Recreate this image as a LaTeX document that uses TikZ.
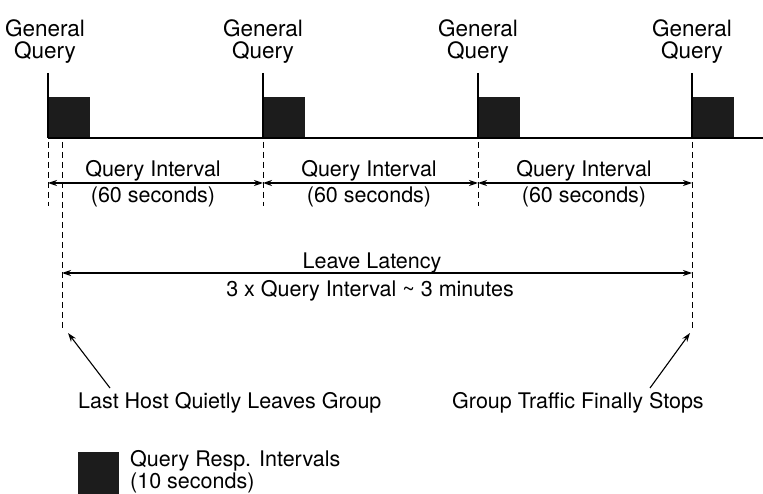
\documentclass[tikz,border=0pt]{standalone}
\usepackage{fontspec}
\setmainfont{TeX Gyre Heros}
\usetikzlibrary{arrows.meta}
\definecolor{boxfill}{RGB}{28,28,28}
\begin{document}
\begin{tikzpicture}[x=1pt,y=-1pt,
  lbl/.style={inner sep=0pt,font=\fontsize{21.5}{23}\selectfont},
  toplbl/.style={inner sep=0pt,font=\fontsize{22.5}{23}\selectfont},
  respbox/.style={fill=boxfill,draw=none},
  tick/.style={line width=1.2pt},
  baseln/.style={line width=1.6pt},
  guide/.style={line width=0.9pt,dash pattern=on 6pt off 4pt},
  dim/.style={line width=1.2pt,{Stealth[length=9pt,width=6pt]}-{Stealth[length=9pt,width=6pt]}},
  pointer/.style={line width=1.1pt,-{Stealth[length=9pt,width=6pt]}}]
\useasboundingbox (0,0) rectangle (763,494);
% tick positions
\foreach \n/\x in {a/48,b/263,c/478,d/692}{
  \coordinate (top\n) at (\x,73);
  \coordinate (base\n) at (\x,138);
  \coordinate (dash\n) at (\x,142);
  \coordinate (dim\n) at (\x,183);
}
\coordinate (lend) at (763,138);
% response boxes
\foreach \n in {a,b,c,d}{
  \fill[respbox] ([yshift=41pt]base\n) rectangle ([xshift=42pt]base\n);
  \draw[tick] (top\n) -- (base\n);
}
\draw[baseln] (basea) -- (lend);
% top labels
\node[toplbl,anchor=base] (gqa1) at (45,36.5) {General};
\node[toplbl,anchor=base] (gqa2) at (45,59) {Query};
\node[toplbl,anchor=base] (gqb1) at (263,36.5) {General};
\node[toplbl,anchor=base] (gqb2) at (263,59) {Query};
\node[toplbl,anchor=base] (gqc1) at (478,36.5) {General};
\node[toplbl,anchor=base] (gqc2) at (478,59) {Query};
\node[toplbl,anchor=base] (gqd1) at (692,36.5) {General};
\node[toplbl,anchor=base] (gqd2) at (692,59) {Query};
% dashed guides
\coordinate (lg1) at (62,142);
\coordinate (lg2) at (62,330);
\coordinate (rg2) at (692,330);
\draw[guide] (dasha) -- (48,206);
\draw[guide] (dashb) -- (263,206);
\draw[guide] (dashc) -- (478,206);
\draw[guide] (dashd) -- (rg2);
\draw[guide] (lg1) -- (lg2);
% query interval dims
\draw[dim] (dima) -- (dimb);
\draw[dim] (dimb) -- (dimc);
\draw[dim] (dimc) -- (dimd);
\foreach \n/\x in {1/153,2/369,3/584}{
  \node[lbl,anchor=base] (qi\n) at (\x,177) {Query Interval};
  \node[lbl,anchor=base] (qs\n) at (\x,203) {(60 seconds)};
}
% leave latency
\coordinate (ll1) at (62,273);
\coordinate (ll2) at (692,273);
\draw[dim] (ll1) -- (ll2);
\node[lbl,anchor=base] (lltext) at (372,269) {Leave Latency};
\node[lbl,anchor=base] (lltext2) at (370,297) {3 x Query Interval \textasciitilde{} 3 minutes};
% bottom labels
\node[lbl,anchor=base west] (lasthost) at (78,408) {Last Host Quietly Leaves Group};
\node[lbl,anchor=base west] (stops) at (452,408) {Group Traffic Finally Stops};
\coordinate (la) at (110,388);
\coordinate (lah) at (68,333);
\coordinate (ra) at (650,388);
\coordinate (rah) at (690,333);
\draw[pointer] (la) -- (lah);
\draw[pointer] (ra) -- (rah);
% legend
\fill[respbox] (78,452) rectangle (119,494);
\node[lbl,anchor=base west] (leg1) at (130,466) {Query Resp. Intervals};
\node[lbl,anchor=base west] (leg2) at (130,488) {(10 seconds)};
\end{tikzpicture}
\end{document}
